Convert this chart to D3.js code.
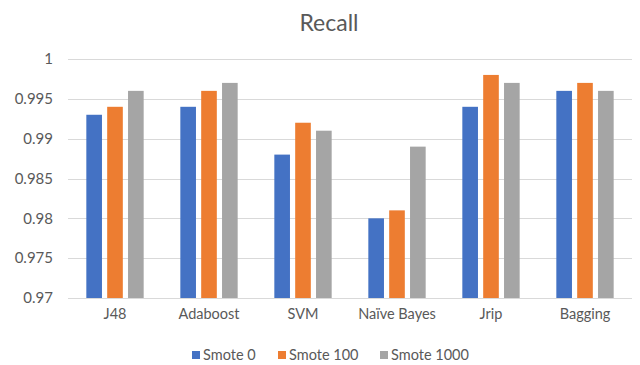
<!DOCTYPE html>
<html>
<head>
<meta charset="utf-8">
<script src="https://cdn.jsdelivr.net/npm/d3@7"></script>
<style>
  html, body { margin: 0; padding: 0; background: #fff; }
  svg { display: block; }
  text { font-family: Lato, "Open Sans", "Liberation Sans", sans-serif; fill: #595959; }
</style>
</head>
<body>
<svg id="chart" width="640" height="365"></svg>
<script>
// Recall per classifier for three SMOTE settings
const categories = ["J48", "Adaboost", "SVM", "Naïve Bayes", "Jrip", "Bagging"];
const seriesNames = ["Smote 0", "Smote 100", "Smote 1000"];
const smote0    = [0.993, 0.994, 0.988, 0.980, 0.994, 0.996];
const smote100  = [0.994, 0.996, 0.992, 0.981, 0.998, 0.997];
const smote1000 = [0.996, 0.997, 0.991, 0.989, 0.997, 0.996];
const yTicks = [0.97, 0.975, 0.98, 0.985, 0.99, 0.995, 1];
const colors = ["#4472C4", "#ED7D31", "#A5A5A5"];

const seriesValues = [smote0, smote100, smote1000];
const rows = categories.map((c, i) => ({
  category: c,
  values: seriesNames.map((s, j) => ({ series: s, value: seriesValues[j][i], idx: j }))
}));

const svg = d3.select("#chart");
const margin = { left: 68, right: 8, top: 59, bottom: 67 };
const width = 640, height = 365;

const x0 = d3.scaleBand()
  .domain(categories)
  .range([margin.left, width - margin.right])
  .paddingInner(0.39)
  .paddingOuter(0.195);

const x1 = d3.scaleBand()
  .domain(seriesNames)
  .range([0, x0.bandwidth()])
  .paddingInner(0.25);

const y = d3.scaleLinear()
  .domain([0.97, 1])
  .range([height - margin.bottom, margin.top]);

// gridlines
svg.append("g")
  .selectAll("line")
  .data(yTicks)
  .join("line")
  .attr("x1", margin.left)
  .attr("x2", width - margin.right)
  .attr("y1", d => Math.round(y(d)) + 0.5)
  .attr("y2", d => Math.round(y(d)) + 0.5)
  .attr("stroke", "#D9D9D9")
  .attr("stroke-width", 1);

// y axis labels
const yAxis = d3.axisLeft(y)
  .tickValues(yTicks)
  .tickSize(0)
  .tickPadding(0)
  .tickFormat(d => d3.format("")(+d.toFixed(3)));
const yg = svg.append("g")
  .attr("transform", `translate(${margin.left - 15},0)`)
  .call(yAxis);
yg.select(".domain").remove();
yg.selectAll("text")
  .style("font-size", "15px")
  .attr("fill", "#595959");

// bars
const groups = svg.append("g")
  .selectAll("g")
  .data(rows)
  .join("g")
  .attr("transform", d => `translate(${x0(d.category)},0)`);

groups.selectAll("rect")
  .data(d => d.values)
  .join("rect")
  .attr("x", d => x1(d.series))
  .attr("width", x1.bandwidth())
  .attr("y", d => y(d.value))
  .attr("height", d => y(0.97) - y(d.value))
  .attr("fill", d => colors[d.idx]);

// x axis labels
const xAxis = d3.axisBottom(x0).tickSize(0).tickPadding(0);
const xg = svg.append("g")
  .attr("transform", `translate(0,${height - margin.bottom + 11})`)
  .call(xAxis);
xg.select(".domain").remove();
xg.selectAll("text")
  .style("font-size", "14.5px")
  .attr("fill", "#595959");

// title
svg.append("text")
  .attr("x", 329)
  .attr("y", 31)
  .attr("text-anchor", "middle")
  .style("font-size", "23px")
  .text("Recall");

// legend
const legendX = [192, 278, 380];
const legend = svg.append("g")
  .selectAll("g")
  .data(seriesNames)
  .join("g")
  .attr("transform", (d, i) => `translate(${legendX[i]},355)`);
legend.append("rect")
  .attr("x", 0)
  .attr("y", -4)
  .attr("width", 8)
  .attr("height", 8)
  .attr("fill", (d, i) => colors[i]);
legend.append("text")
  .attr("x", 11)
  .attr("y", 0)
  .attr("dy", "0.35em")
  .style("font-size", "14.5px")
  .text(d => d);
</script>
</body>
</html>
